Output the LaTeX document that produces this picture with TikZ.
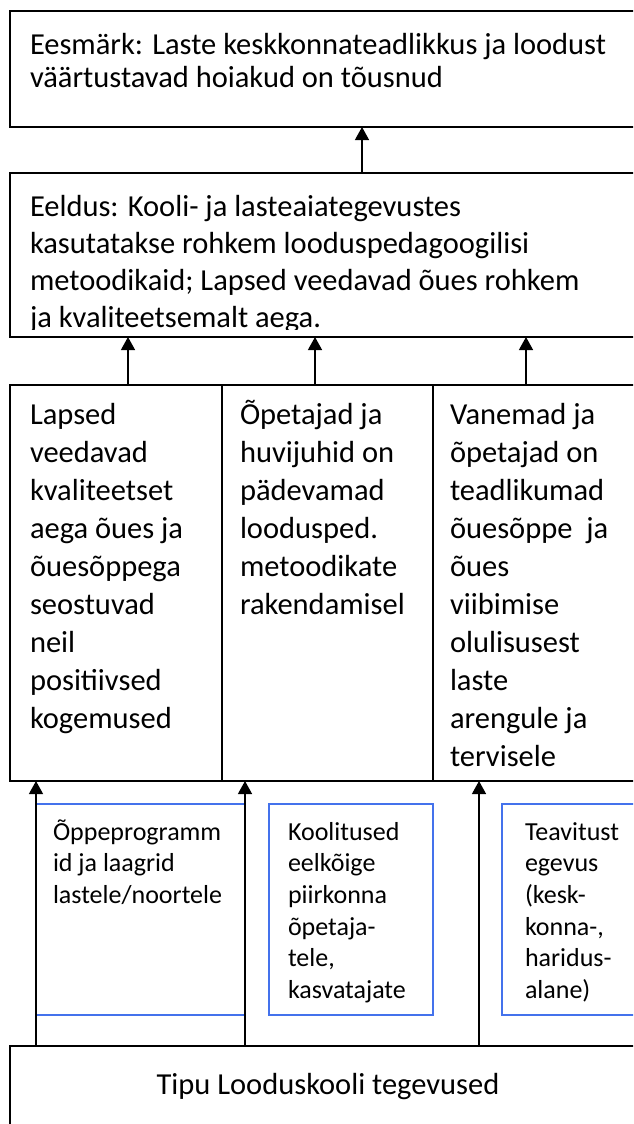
\documentclass[tikz,border=0pt]{standalone}
\usepackage{fontspec}
\setmainfont{Carlito}
\usetikzlibrary{arrows.meta}
\definecolor{bluebox}{RGB}{68,114,236}
\tikzset{
  box/.style={draw=black, line width=1.3pt, anchor=north west, inner sep=0pt, outer sep=0pt},
  bluebx/.style={draw=bluebox, line width=1.4pt, anchor=north west, inner sep=0pt, outer sep=0pt},
  txt/.style={anchor=base west, inner sep=0pt, outer sep=0pt},
  arr/.style={draw=black, line width=1.3pt, -{Triangle[length=13pt,width=14pt]}},
}
\begin{document}
\begin{tikzpicture}[x=1pt,y=-1pt]
\useasboundingbox (0,0) rectangle (633,1124);
\clip (0,0) rectangle (633,1124);
\fill[white] (0,0) rectangle (633,1124);

% goal box
\node[box, minimum width=650pt, minimum height=116pt] (goal) at (10,11) {};
\node[txt] (goalt) at (30,55) {\parbox[t]{600pt}{\fontsize{30.5}{33}\selectfont
Eesmärk: Laste keskkonnateadlikkus ja loodust\\väärtustavad hoiakud on tõusnud}};

% precondition box
\node[box, minimum width=650pt, minimum height=164pt] (eeld) at (10,173) {};
\begin{scope}
\clip (eeld.north west) rectangle ([yshift=8pt]eeld.south east);
\node[txt] (eeldt) at (30,216) {\parbox[t]{600pt}{\fontsize{30.5}{37}\selectfont
Eeldus: Kooli- ja lasteaiategevustes\\kasutatakse rohkem looduspedagoogilisi\\metoodikaid; Lapsed veedavad õues rohkem\\ja kvaliteetsemalt aega.}};
\end{scope}

% result columns
\node[box, minimum width=212pt, minimum height=396pt] (c1) at (10,385) {};
\node[box, minimum width=211pt, minimum height=396pt] (c2) at (222,385) {};
\node[box, minimum width=227pt, minimum height=396pt] (c3) at (433,385) {};
\node[txt] (c1t) at (30,424) {\parbox[t]{190pt}{\fontsize{30.5}{38}\selectfont
Lapsed\\veedavad\\kvaliteetset\\aega õues ja\\õuesõppega\\seostuvad\\neil\\positiivsed\\kogemused}};
\node[txt] (c2t) at (240,424) {\parbox[t]{190pt}{\fontsize{30.5}{38}\selectfont
Õpetajad ja\\huvijuhid on\\pädevamad\\loodusped.\\metoodikate\\rakendamisel}};
\node[txt] (c3t) at (450,424) {\parbox[t]{190pt}{\fontsize{30.5}{38}\selectfont
Vanemad ja\\õpetajad on\\teadlikumad\\õuesõppe\ \ ja\\õues\\viibimise\\olulisusest\\laste\\arengule ja\\tervisele}};

% activity boxes (blue)
\node[bluebx, minimum width=209pt, minimum height=211pt] (b1) at (36,804) {};
\node[bluebx, minimum width=164pt, minimum height=211pt] (b2) at (269,804) {};
\node[bluebx, minimum width=160pt, minimum height=211pt] (b3) at (502,804) {};
\node[txt] (b1t) at (53,840) {\parbox[t]{190pt}{\fontsize{26}{31.7}\selectfont
Õppeprogramm\\id ja laagrid\\lastele/noortele}};
\node[txt] (b2t) at (288,840) {\parbox[t]{150pt}{\fontsize{26}{31.7}\selectfont
Koolitused\\eelkõige\\piirkonna\\õpetaja-\\tele,\\kasvatajate}};
\node[txt] (b3t) at (525,840) {\parbox[t]{150pt}{\fontsize{26}{31.7}\selectfont
Teavitust\\egevus\\(kesk-\\konna-,\\haridus-\\alane)}};

% bottom box
\node[box, minimum width=650pt, minimum height=120pt] (tipu) at (10,1046) {};
\node[anchor=base, inner sep=0pt] (tiput) at (328,1094) {\fontsize{30.5}{36}\selectfont Tipu Looduskooli tegevused};

% arrow positions
\coordinate (xa) at (362,0);
\coordinate (xb1) at (128,0);
\coordinate (xb2) at (315,0);
\coordinate (xb3) at (526,0);
\coordinate (xc1) at (36,0);
\coordinate (xc2) at (245,0);
\coordinate (xc3) at (479,0);

\draw[arr] (xa |- eeld.north) -- (xa |- goal.south);
\draw[arr] (xb1 |- c1.north) -- (xb1 |- eeld.south);
\draw[arr] (xb2 |- c2.north) -- (xb2 |- eeld.south);
\draw[arr] (xb3 |- c3.north) -- (xb3 |- eeld.south);
\draw[arr] (xc1 |- tipu.north) -- (xc1 |- c1.south);
\draw[arr] (xc2 |- tipu.north) -- (xc2 |- c2.south);
\draw[arr] (xc3 |- tipu.north) -- (xc3 |- c3.south);
\end{tikzpicture}
\end{document}
